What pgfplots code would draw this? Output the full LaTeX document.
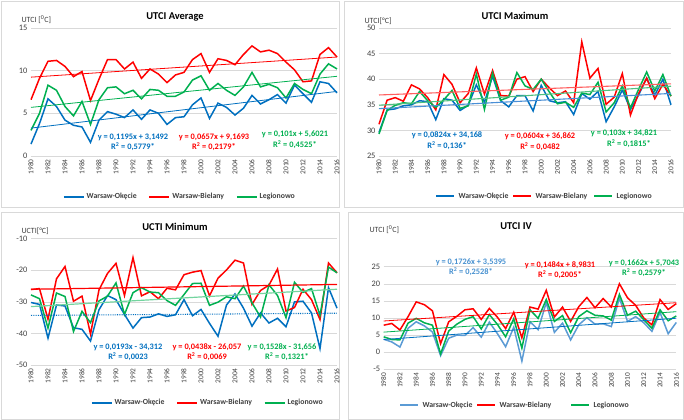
\documentclass[border=0pt]{standalone}
\usepackage{fontspec}
\setmainfont{Carlito}
\usepackage{pgfplots}
\usepackage{pgfplotstable}
\pgfplotsset{compat=1.18}
\definecolor{cb}{HTML}{0070C0}
\definecolor{cr}{HTML}{FF0000}
\definecolor{cg}{HTML}{00B050}
\definecolor{cbl}{HTML}{5B9BD5}
\definecolor{gridc}{HTML}{D9D9D9}
\definecolor{txt}{HTML}{404040}
\definecolor{cbt}{HTML}{4A8FD6}
\definecolor{crt}{HTML}{FF6060}
\definecolor{cgt}{HTML}{50C080}

\pgfplotstableread{
year b r g
1980 1.4 6.6 3.0
1981 3.8 9.1 5.0
1982 6.7 11.1 8.3
1983 5.8 11.2 7.7
1984 4.2 10.5 5.8
1985 3.6 9.3 4.7
1986 3.4 9.9 6.4
1987 1.6 6.5 3.7
1988 4.2 9.0 6.6
1989 5.2 11.3 8.0
1990 4.9 11.3 8.1
1991 4.5 10.2 7.3
1992 5.4 11.0 7.7
1993 4.3 9.1 6.7
1994 5.4 10.2 7.8
1995 5.0 9.6 7.7
1996 3.7 8.6 7.0
1997 4.5 9.5 7.0
1998 4.6 9.8 7.5
1999 6.0 11.3 8.9
2000 6.8 12.0 9.4
2001 4.4 9.8 7.7
2002 6.2 11.4 8.5
2003 5.7 11.2 7.7
2004 4.8 10.7 7.1
2005 5.6 11.9 8.1
2006 7.1 12.9 9.8
2007 6.1 12.2 8.1
2008 6.6 12.4 8.4
2009 7.2 12.0 8.0
2010 6.2 11.0 6.8
2011 8.3 10.1 8.5
2012 7.3 8.7 7.8
2013 6.3 8.8 7.3
2014 8.7 11.9 9.6
2015 8.5 12.7 10.8
2016 7.4 11.6 10.2
}\tabA

\pgfplotstableread{
year b r g
1980 29.6 31.2 29.3
1981 34.0 35.9 33.9
1982 34.2 36.4 34.9
1983 34.8 35.7 35.4
1984 35.0 38.9 35.2
1985 35.8 38.1 37.6
1986 35.6 36.4 35.8
1987 32.1 34.0 34.5
1988 36.2 40.9 36.0
1989 35.9 39.0 37.8
1990 33.9 35.4 34.3
1991 34.9 37.2 34.8
1992 38.9 42.2 41.0
1993 35.5 37.1 34.1
1994 40.6 41.7 41.2
1995 35.8 36.8 35.9
1996 34.6 36.7 36.5
1997 36.8 40.0 41.3
1998 36.8 40.5 38.7
1999 33.8 37.6 38.0
2000 38.8 40.0 40.0
2001 35.8 38.3 37.5
2002 35.4 36.8 35.2
2003 35.6 37.7 35.5
2004 33.1 35.4 34.5
2005 37.2 47.3 37.3
2006 36.1 40.2 37.0
2007 37.6 42.1 39.4
2008 31.7 35.1 33.6
2009 34.6 36.5 35.4
2010 37.9 41.1 38.7
2011 34.1 33.0 34.4
2012 36.9 37.2 38.0
2013 40.2 40.2 41.4
2014 36.9 36.2 37.7
2015 40.0 39.0 40.9
2016 35.0 36.7 36.7
}\tabB

\pgfplotstableread{
year b r g
1980 -30.2 -26.1 -27.8
1981 -30.8 -25.8 -29.0
1982 -41.5 -35.5 -38.3
1983 -31.0 -22.7 -27.2
1984 -31.3 -18.8 -28.3
1985 -38.2 -29.8 -39.4
1986 -38.7 -28.2 -33.0
1987 -42.4 -40.2 -36.6
1988 -32.5 -26.2 -29.7
1989 -28.0 -21.0 -28.2
1990 -29.3 -17.8 -24.0
1991 -34.0 -28.0 -34.0
1992 -38.3 -16.0 -27.1
1993 -35.0 -28.1 -25.5
1994 -34.8 -26.8 -26.9
1995 -33.8 -29.0 -27.1
1996 -34.6 -25.7 -29.6
1997 -34.1 -26.2 -31.1
1998 -29.3 -21.4 -27.7
1999 -34.4 -20.6 -24.2
2000 -32.4 -20.1 -24.1
2001 -36.8 -28.1 -31.1
2002 -40.9 -22.5 -30.1
2003 -31.0 -19.9 -28.4
2004 -27.5 -16.8 -29.0
2005 -32.0 -17.7 -25.0
2006 -37.7 -30.8 -30.3
2007 -33.5 -26.4 -34.8
2008 -36.7 -24.7 -24.6
2009 -35.2 -19.6 -28.0
2010 -37.9 -32.9 -35.0
2011 -30.0 -31.8 -23.8
2012 -29.8 -26.0 -27.0
2013 -33.5 -29.3 -25.8
2014 -44.8 -35.6 -34.3
2015 -25.5 -17.7 -19.0
2016 -32.0 -20.8 -20.8
}\tabC

\pgfplotstableread{
year b r g
1980 3.8 7.9 4.5
1981 3.0 8.4 3.7
1982 1.5 6.5 3.6
1983 7.0 10.4 8.5
1984 8.9 14.7 9.9
1985 7.7 13.9 8.6
1986 5.9 12.1 7.9
1987 -1.0 2.5 -0.5
1988 4.1 8.9 6.2
1989 5.0 10.5 8.2
1990 4.9 12.4 9.6
1991 7.2 12.7 10.4
1992 4.4 9.6 6.8
1993 8.8 12.8 11.0
1994 5.4 10.2 8.1
1995 1.6 6.9 4.5
1996 7.3 11.7 9.8
1997 -2.6 4.2 1.2
1998 8.9 13.2 12.4
1999 6.6 12.6 9.9
2000 14.5 18.1 15.4
2001 5.8 10.3 9.0
2002 8.5 13.2 10.7
2003 3.6 9.0 5.7
2004 8.0 13.3 10.4
2005 10.1 16.0 12.1
2006 8.2 13.0 10.8
2007 8.3 15.7 10.6
2008 7.5 13.2 9.4
2009 15.8 20.0 16.9
2010 9.0 15.9 10.8
2011 10.4 13.7 12.0
2012 8.6 10.0 9.5
2013 6.1 8.0 7.0
2014 11.6 15.4 12.4
2015 5.4 12.5 9.2
2016 8.7 14.2 10.6
}\tabD

\tikzset{
  lgt/.style={anchor=west, text=txt, font=\bfseries\fontsize{7.8}{9}\selectfont},
  dl/.style={line width=1.5pt},
}
\pgfplotsset{
  panel/.style={
    scale only axis,
    xmin=1980, xmax=2016,
    xtick={1980,1982,...,2016},
    axis x line*=bottom,
    axis y line*=left,
    y axis line style={draw=none},
    x axis line style={gridc, line width=0.6pt},
    major tick style={draw=none},
    ymajorgrids,
    grid style={gridc, line width=0.6pt},
    xticklabel style={rotate=90, anchor=east, font=\fontsize{7.4}{8}\selectfont, text=txt},
    yticklabel style={font=\fontsize{8.4}{9}\selectfont, text=txt},
    /pgf/number format/assume math mode=true,
    /pgf/number format/set thousands separator={},
    clip=false,
    legend columns=3,
    legend style={draw=none, text=txt, font=\bfseries\fontsize{7.8}{9}\selectfont,
      /tikz/every even column/.append style={column sep=10bp}},
    legend cell align=left,
    legend image code/.code={\draw[##1, line width=1.6pt] (0bp,0bp) -- (20bp,0bp);},
  },
  tl/.style={line width=0.8pt, forget plot},
}

\begin{document}
\begin{tikzpicture}
\useasboundingbox (0,0) rectangle (684bp,-420bp);
\fill[white] (0,0) rectangle (684bp,-420bp);
% panel frames
\draw[gridc, line width=0.7pt] (1bp,-1bp) rectangle (339bp,-207bp);
\draw[gridc, line width=0.7pt] (344bp,-1bp) rectangle (683bp,-207bp);
\draw[gridc, line width=0.7pt] (1bp,-212bp) rectangle (339bp,-419bp);
\draw[gridc, line width=0.7pt] (348bp,-212bp) rectangle (683bp,-419bp);

% ---------- Panel 1 ----------
\begin{axis}[panel, at={(31bp,-156bp)}, anchor=south west, width=306bp, height=128bp,
  ymin=0, ymax=15, ytick={0,5,10,15},
  legend style={at={(0.487,-0.32)}, anchor=center}]
\addplot[cb, dl] table[x=year,y=b] {\tabA};
\addlegendentry{Warsaw-Okęcie}
\addplot[cr, dl] table[x=year,y=r] {\tabA};
\addlegendentry{Warsaw-Bielany}
\addplot[cg, dl] table[x=year,y=g] {\tabA};
\addlegendentry{Legionowo}
\addplot[cb, tl] coordinates {(1980,3.27) (2016,7.57)};
\addplot[cr, tl] coordinates {(1980,9.24) (2016,11.60)};
\addplot[cg, tl] coordinates {(1980,5.70) (2016,9.34)};
\end{axis}
\node[font=\bfseries\fontsize{10.5}{12}\selectfont] at (175bp,-17bp) {UTCI Average};
\node[anchor=west, font=\fontsize{8}{9}\selectfont, text=txt] at (18bp,-20bp) {UTCI [\textsuperscript{0}C]};
\begin{scope}[every node/.style={font=\bfseries\fontsize{8.4}{9}\selectfont}]
\node[cb] at (133bp,-137bp) {y = 0,1195x + 3,1492};
\node[cb] at (133bp,-147bp) {R\textsuperscript{2} = 0,5779*};
\node[cr] at (214bp,-137bp) {y = 0,0657x + 9,1693};
\node[cr] at (214bp,-147bp) {R\textsuperscript{2} = 0,2179*};
\node[cg] at (295bp,-134bp) {y = 0,101x + 5,6021};
\node[cg] at (295bp,-145bp) {R\textsuperscript{2} = 0,4525*};
\end{scope}

% ---------- Panel 2 ----------
\begin{axis}[panel, at={(379bp,-156bp)}, anchor=south west, width=292bp, height=128bp,
  ymin=25, ymax=50, ytick={25,30,35,40,45,50}]
\addplot[cb, dl] table[x=year,y=b] {\tabB};
\addplot[cr, dl] table[x=year,y=r] {\tabB};
\addplot[cg, dl] table[x=year,y=g] {\tabB};
\addplot[cbt, tl, line width=1.1pt] coordinates {(1980,34.25) (2016,37.22)};
\addplot[crt, tl, line width=1.1pt] coordinates {(1980,36.92) (2016,39.10)};
\addplot[cgt, tl, line width=1.1pt] coordinates {(1980,34.92) (2016,38.63)};
\end{axis}
\draw[cb, line width=1.6pt] (436bp,-196bp) -- (454bp,-196bp);
\node[lgt] at (455bp,-196bp) {Warsaw-Okęcie};
\draw[cr, line width=1.6pt] (513bp,-196bp) -- (531bp,-196bp);
\node[lgt] at (532bp,-196bp) {Warsaw-Bielany};
\draw[cg, line width=1.6pt] (594bp,-196bp) -- (612bp,-196bp);
\node[lgt] at (613bp,-196bp) {Legionowo};
\node[font=\bfseries\fontsize{10.5}{12}\selectfont] at (515bp,-16bp) {UTCI Maximum};
\node[anchor=west, font=\fontsize{8}{9}\selectfont, text=txt] at (361bp,-21bp) {UTCI[°C]};
\begin{scope}[every node/.style={font=\bfseries\fontsize{8.4}{9}\selectfont}]
\node[cb] at (447bp,-135bp) {y = 0,0824x + 34,168};
\node[cb] at (447bp,-146bp) {R\textsuperscript{2} = 0,136*};
\node[cr] at (540bp,-136bp) {y = 0,0604x + 36,862};
\node[cr] at (540bp,-147bp) {R\textsuperscript{2} = 0,0482};
\node[cg] at (624bp,-133bp) {y = 0,103x + 34,821};
\node[cg] at (629bp,-144bp) {R\textsuperscript{2} = 0,1815*};
\end{scope}

% ---------- Panel 3 ----------
\begin{axis}[panel, at={(31bp,-365bp)}, anchor=south west, width=306bp, height=126.3bp,
  ymin=-50, ymax=-10, ytick={-50,-40,-30,-20,-10},
  legend style={at={(0.578,-0.30)}, anchor=center}]
\addplot[cb, dl] table[x=year,y=b] {\tabC};
\addlegendentry{Warsaw-Okęcie}
\addplot[cr, dl] table[x=year,y=r] {\tabC};
\addlegendentry{Warsaw-Bielany}
\addplot[cg, dl] table[x=year,y=g] {\tabC};
\addlegendentry{Legionowo}
\addplot[cb, tl, densely dotted, line width=1.1pt] coordinates {(1980,-34.29) (2016,-33.60)};
\addplot[cr, tl, line width=1.2pt] coordinates {(1980,-26.01) (2016,-24.48)};
\addplot[cg!55!white, tl, line width=1.2pt] coordinates {(1980,-31.50) (2016,-26.00)};
\end{axis}
\node[font=\bfseries\fontsize{10.5}{12}\selectfont] at (175bp,-227bp) {UCTI Minimum};
\node[anchor=west, font=\fontsize{8}{9}\selectfont, text=txt] at (18bp,-231bp) {UCTI[°C]};
\begin{scope}[every node/.style={font=\bfseries\fontsize{8.4}{9}\selectfont}]
\node[cb] at (128bp,-347bp) {y = 0,0193x - 34,312};
\node[cb] at (128bp,-357bp) {R\textsuperscript{2} = 0,0023};
\node[cr] at (207bp,-347bp) {y = 0,0438x - 26,057};
\node[cr] at (207bp,-357bp) {R\textsuperscript{2} = 0,0069};
\node[cg] at (282bp,-347bp) {y = 0,1528x - 31,656};
\node[cg] at (287bp,-357bp) {R\textsuperscript{2} = 0,1321*};
\end{scope}

% ---------- Panel 4 ----------
\begin{axis}[panel, at={(383.7bp,-369.3bp)}, anchor=south west, width=292.6bp, height=102.6bp,
  ymin=-5, ymax=25, ytick={-5,0,5,10,15,20,25}]
\addplot[cbl, dl] table[x=year,y=b] {\tabD};
\addplot[cr, dl] table[x=year,y=r] {\tabD};
\addplot[cg, dl] table[x=year,y=g] {\tabD};
\addplot[cb, tl] coordinates {(1980,3.71) (2016,9.93)};
\addplot[cr, tl] coordinates {(1980,9.13) (2016,14.47)};
\addplot[cg, tl] coordinates {(1980,5.87) (2016,11.85)};
\end{axis}
\draw[cbl, line width=1.6pt] (400bp,-405bp) -- (418bp,-405bp);
\node[lgt] at (419bp,-405bp) {Warsaw-Okęcie};
\draw[cr, line width=1.6pt] (477bp,-405bp) -- (495bp,-405bp);
\node[lgt] at (496bp,-405bp) {Warsaw-Bielany};
\draw[cg, line width=1.6pt] (571bp,-405bp) -- (589bp,-405bp);
\node[lgt] at (590bp,-405bp) {Legionowo};
\node[font=\bfseries\fontsize{10.5}{12}\selectfont] at (516bp,-226bp) {UTCI IV};
\node[anchor=west, font=\fontsize{8}{9}\selectfont, text=txt] at (366bp,-230bp) {UTCI [\textsuperscript{0}C]};
\begin{scope}[every node/.style={font=\bfseries\fontsize{8.4}{9}\selectfont}]
\node[cbl!80!cb] at (471bp,-262bp) {y = 0,1726x + 3,5395};
\node[cbl!80!cb] at (471bp,-272bp) {R\textsuperscript{2} = 0,2528*};
\node[cr] at (560bp,-265bp) {y = 0,1484x + 8,9831};
\node[cr] at (560bp,-275bp) {R\textsuperscript{2} = 0,2005*};
\node[cg] at (644bp,-263bp) {y = 0,1662x + 5,7043};
\node[cg] at (644bp,-273bp) {R\textsuperscript{2} = 0,2579*};
\end{scope}
\end{tikzpicture}
\end{document}
